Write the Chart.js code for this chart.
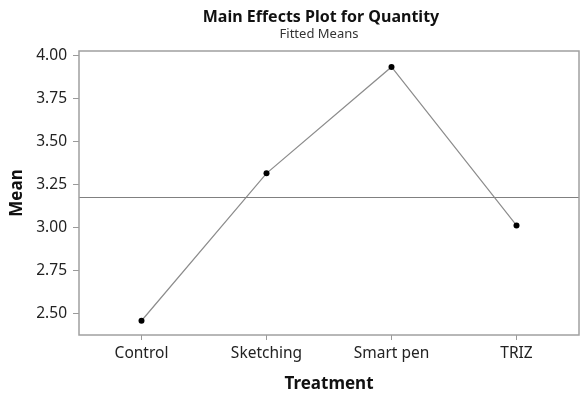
<!DOCTYPE html>
<html>
<head>
<meta charset="utf-8">
<script src="https://cdn.jsdelivr.net/npm/chart.js@4"></script>
<style>
html,body{margin:0;padding:0;background:#fff;}
#wrap{width:583px;height:396px;}
</style>
</head>
<body>
<div id="wrap"><canvas id="c" width="583" height="396"></canvas></div>
<script>
const categories = ["Control", "Sketching", "Smart pen", "TRIZ"];
const meanValues = [2.457, 3.315, 3.934, 3.012];
const grandMean = [3.18];
const yTicks = [2.50, 2.75, 3.00, 3.25, 3.50, 3.75, 4.00];
const titleText = "Main Effects Plot for Quantity";
const subtitleText = "Fitted Means";

const FONT = "'Noto Sans', 'Open Sans', sans-serif";

const overlay = {
  id: 'overlay',
  afterDatasetsDraw(chart) {
    const {ctx, chartArea, scales} = chart;
    ctx.save();
    const gy = scales.y.getPixelForValue(grandMean[0]);
    ctx.strokeStyle = '#808080';
    ctx.lineWidth = 1;
    ctx.beginPath();
    ctx.moveTo(chartArea.left, Math.round(gy) + 0.5);
    ctx.lineTo(chartArea.right, Math.round(gy) + 0.5);
    ctx.stroke();
    ctx.strokeStyle = '#a0a0a0';
    ctx.lineWidth = 1.5;
    ctx.strokeRect(chartArea.left, chartArea.top, chartArea.right - chartArea.left, chartArea.bottom - chartArea.top);
    const cx = 321;
    ctx.fillStyle = '#111';
    ctx.textAlign = 'center';
    ctx.textBaseline = 'middle';
    ctx.font = "bold 16px " + FONT;
    ctx.fillText(titleText, cx, 17);
    ctx.font = "13px " + FONT;
    ctx.fillStyle = '#333';
    ctx.fillText(subtitleText, cx - 2, 34);
    ctx.restore();
  }
};

new Chart(document.getElementById('c'), {
  type: 'line',
  data: {
    labels: categories,
    datasets: [{
      data: meanValues,
      borderColor: '#8c8c8c',
      borderWidth: 1.2,
      pointRadius: 3,
      pointBackgroundColor: '#000',
      pointBorderColor: '#000',
      pointBorderWidth: 0,
      tension: 0,
      fill: false
    }]
  },
  options: {
    responsive: false,
    animation: false,
    devicePixelRatio: 1,
    layout: { padding: { top: 51, right: 2, left: 0, bottom: 0 } },
    plugins: { legend: { display: false }, tooltip: { enabled: false }, title: { display: false } },
    scales: {
      x: {
        type: 'category',
        offset: true,
        grid: { display: true, drawOnChartArea: false, drawTicks: true, tickLength: 5, color: '#9a9a9a' },
        border: { display: false },
        ticks: { color: '#222', font: { family: FONT, size: 15.5 }, padding: 4, maxRotation: 0 },
        title: { display: true, text: 'Treatment', color: '#111', font: { family: FONT, size: 17, weight: 'bold' }, padding: { top: 0, bottom: 2 } },
        afterFit(scale) { scale.height = 61; }
      },
      y: {
        min: 2.374,
        max: 4.027,
        afterBuildTicks(scale) { scale.ticks = yTicks.map(v => ({ value: v })); },
        grid: { display: true, drawOnChartArea: false, drawTicks: true, tickLength: 6, color: '#9a9a9a' },
        border: { display: false },
        ticks: { color: '#222', font: { family: FONT, size: 15.5 }, padding: 6, callback: v => Number(v).toFixed(2) },
        title: { display: true, text: 'Mean', color: '#111', font: { family: FONT, size: 17, weight: 'bold' }, padding: { top: 7, bottom: 0 } },
        afterFit(scale) { scale.width = 79; }
      }
    }
  },
  plugins: [overlay]
});
</script>
</body>
</html>
